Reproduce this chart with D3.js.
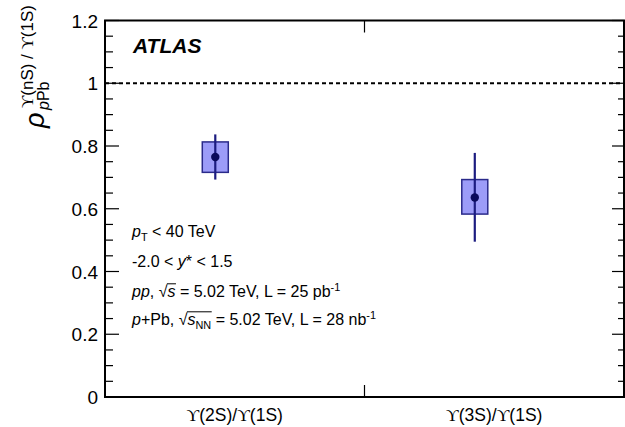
<!DOCTYPE html>
<html>
<head>
<meta charset="utf-8">
<script src="https://cdn.jsdelivr.net/npm/d3@7"></script>
<style>
  body { margin: 0; background: #fff; }
  svg { display: block; }
  text { font-family: "Liberation Sans", Arial, sans-serif; fill: #000; }
</style>
</head>
<body>
<svg id="chart" width="625" height="427"></svg>
<script>
// values
const categories = ["2S", "3S"];
const ratio = [0.765, 0.636];
const statHi = [0.837, 0.778];
const statLo = [0.693, 0.495];
const systHi = [0.813, 0.693];
const systLo = [0.716, 0.583];
const yTicks = [0, 0.2, 0.4, 0.6, 0.8, 1, 1.2];
const yTickLabels = ["0", "0.2", "0.4", "0.6", "0.8", "1", "1.2"];
const refLine = 1;

const svg = d3.select("#chart");
const mLeft = 105, mRight = 624, mTop = 20.5, mBottom = 397;

const x = d3.scaleBand().domain(categories).range([mLeft, mRight]).paddingInner(0).paddingOuter(0);
const y = d3.scaleLinear().domain([0, 1.2]).range([mBottom, mTop]);
const bw = x.bandwidth();
const px = d => x(d) + bw * 0.425;   // markers sit a bit left of the bin centre
const boxW = 26;

// minor / major ticks, left and right
const minor = d3.range(0, 1.2001, 0.05);
const g = svg.append("g");
minor.forEach(v => {
    const major = yTicks.some(t => Math.abs(t - v) < 1e-6);
    g.append("line").attr("x1", mLeft).attr("x2", mLeft + (major ? 14 : 8))
        .attr("y1", y(v)).attr("y2", y(v)).attr("stroke", "#000").attr("stroke-width", 1.2);
    g.append("line").attr("x1", mRight).attr("x2", mRight - (major ? 12 : 6))
        .attr("y1", y(v)).attr("y2", y(v)).attr("stroke", "#000").attr("stroke-width", 1.2);
});
// x tick between the two bins
const mid = x(categories[1]);
g.append("line").attr("x1", mid).attr("x2", mid).attr("y1", mBottom).attr("y2", mBottom - 12)
    .attr("stroke", "#000").attr("stroke-width", 1.2);
g.append("line").attr("x1", mid).attr("x2", mid).attr("y1", mTop).attr("y2", mTop + 12)
    .attr("stroke", "#000").attr("stroke-width", 1.2);

// y tick labels
yTicks.forEach((v, i) => {
    svg.append("text").attr("x", 98).attr("y", y(v) + 7).attr("text-anchor", "end")
        .attr("font-size", 19).text(yTickLabels[i]);
});

// reference line at 1
svg.append("line").attr("x1", mLeft).attr("x2", mRight).attr("y1", y(refLine)).attr("y2", y(refLine))
    .attr("stroke", "#000").attr("stroke-width", 2).attr("stroke-dasharray", "4,3");

// systematic boxes
svg.selectAll("rect.syst").data(categories).join("rect").attr("class", "syst")
    .attr("x", d => px(d) - boxW / 2)
    .attr("y", (d, i) => y(systHi[i]))
    .attr("width", boxW)
    .attr("height", (d, i) => y(systLo[i]) - y(systHi[i]))
    .attr("fill", "#9c9cf8").attr("stroke", "#2a2a8a").attr("stroke-width", 1.5);

// statistical error bars
svg.selectAll("line.stat").data(categories).join("line").attr("class", "stat")
    .attr("x1", d => px(d)).attr("x2", d => px(d))
    .attr("y1", (d, i) => y(statHi[i])).attr("y2", (d, i) => y(statLo[i]))
    .attr("stroke", "#1c1c80").attr("stroke-width", 2.2);

// markers
svg.selectAll("circle.pt").data(categories).join("circle").attr("class", "pt")
    .attr("cx", d => px(d)).attr("cy", (d, i) => y(ratio[i])).attr("r", 4.2)
    .attr("fill", "#0a0a5c");

// frame
svg.append("rect").attr("x", mLeft).attr("y", mTop).attr("width", mRight - mLeft).attr("height", mBottom - mTop)
    .attr("fill", "none").attr("stroke", "#000").attr("stroke-width", 2);

// category labels
categories.forEach(c => {
    const t = svg.append("text").attr("x", x(c) + bw / 2).attr("y", 421)
        .attr("text-anchor", "middle").attr("font-size", 17.5);
    t.append("tspan").attr("font-family", "'Liberation Serif', serif").text("ϒ");
    t.append("tspan").text("(" + c + ")/");
    t.append("tspan").attr("font-family", "'Liberation Serif', serif").text("ϒ");
    t.append("tspan").text("(1S)");
});

// ATLAS label
svg.append("text").attr("x", 133).attr("y", 53).attr("font-size", 21)
    .attr("font-weight", "bold").attr("font-style", "italic").text("ATLAS");

// rich text helper
function richText(xp, yp, size, segs) {
    const t = svg.append("text").attr("x", xp).attr("y", yp).attr("font-size", size);
    let shift = 0;
    const spans = [];
    segs.forEach(s => {
        const want = s.sub ? 4 : s.sup ? -6 : 0;
        const sp = t.append("tspan").attr("dy", want - shift).text(s.t);
        shift = want;
        if (s.it) sp.attr("font-style", "italic");
        if (s.sub || s.sup) sp.attr("font-size", size * 0.68);
        spans.push({ node: sp.node(), seg: s });
    });
    // overline for square roots
    const over = spans.filter(s => s.seg.over);
    if (over.length) {
        const root = spans.find(s => s.seg.t === "√").node.getBBox();
        const last = over[over.length - 1].node.getBBox();
        svg.append("line").attr("x1", root.x + root.width - 0.8).attr("x2", last.x + last.width + 0.5)
            .attr("y1", yp - 13.2).attr("y2", yp - 13.2).attr("stroke", "#000").attr("stroke-width", 1);
    }
    return t;
}

richText(132, 237, 16, [{ t: "p", it: true }, { t: "T", sub: true }, { t: " < 40 TeV" }]);
richText(132, 267, 16, [{ t: "-2.0 < " }, { t: "y", it: true }, { t: "* < 1.5" }]);
richText(132, 297, 16, [{ t: "pp", it: true }, { t: ", " }, { t: "√" }, { t: "s", it: true, over: true },
    { t: " = 5.02 TeV, L = 25 pb" }, { t: "-1", sup: true }]);
richText(132, 325, 16, [{ t: "p", it: true }, { t: "+Pb, " }, { t: "√" }, { t: "s", it: true, over: true },
    { t: "NN", sub: true, over: true }, { t: " = 5.02 TeV, L = 28 nb" }, { t: "-1", sup: true }]);

// y axis title
const yt = svg.append("g").attr("transform", "translate(0,128) rotate(-90)");
yt.append("text").attr("x", 0).attr("y", 44).attr("font-size", 27).attr("font-style", "italic").text("ρ");
const sup = yt.append("text").attr("x", 20).attr("y", 33).attr("font-size", 17);
sup.append("tspan").attr("font-family", "'Liberation Serif', serif").text("ϒ");
sup.append("tspan").text("(nS) / ");
sup.append("tspan").attr("font-family", "'Liberation Serif', serif").text("ϒ");
sup.append("tspan").text("(1S)");
const sub = yt.append("text").attr("x", 18).attr("y", 49).attr("font-size", 16);
sub.append("tspan").attr("font-style", "italic").text("p");
sub.append("tspan").text("Pb");
</script>
</body>
</html>
